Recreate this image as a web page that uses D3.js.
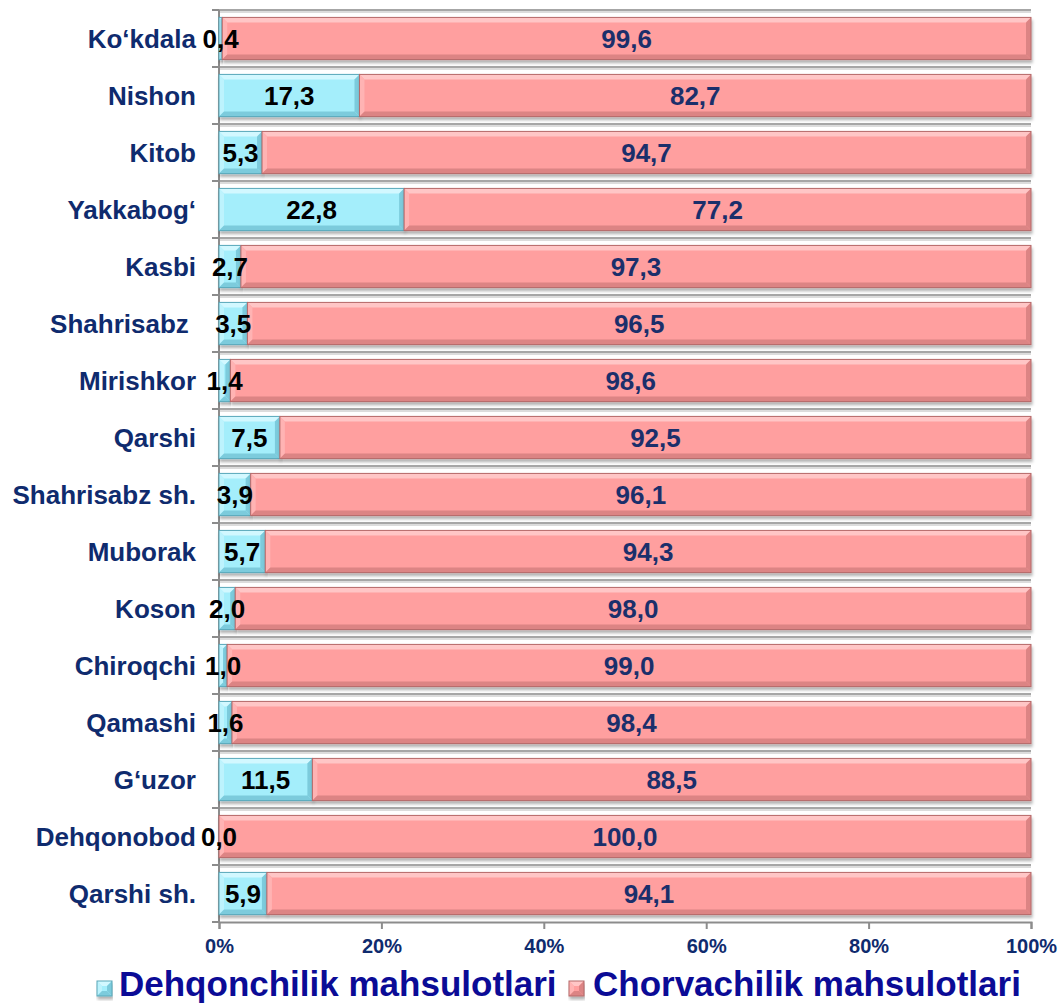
<!DOCTYPE html>
<html>
<head>
<meta charset="utf-8">
<script src="https://cdn.jsdelivr.net/npm/d3@7"></script>
<style>
  body { margin: 0; background: #fff; }
  svg { font-family: Arial, "Liberation Sans", sans-serif; font-weight: bold; }
</style>
</head>
<body>
<div id="chart"></div>
<script>
// data, top to bottom
const categories = ["Ko‘kdala", "Nishon", "Kitob", "Yakkabog‘", "Kasbi", "Shahrisabz ", "Mirishkor", "Qarshi",
  "Shahrisabz sh.", "Muborak", "Koson", "Chiroqchi", "Qamashi", "G‘uzor", "Dehqonobod", "Qarshi sh."];
const dehqon = [0.4, 17.3, 5.3, 22.8, 2.7, 3.5, 1.4, 7.5, 3.9, 5.7, 2.0, 1.0, 1.6, 11.5, 0.0, 5.9];
const chorva = [99.6, 82.7, 94.7, 77.2, 97.3, 96.5, 98.6, 92.5, 96.1, 94.3, 98.0, 99.0, 98.4, 88.5, 100.0, 94.1];
const seriesNames = ["Dehqonchilik mahsulotlari", "Chorvachilik mahsulotlari"];
const xTicks = [0, 20, 40, 60, 80, 100];

const width = 1060, height = 1005;
const margin = { left: 219, right: 1031, top: 10, bottom: 922 };

const styles = [
  { base: "#a4eefb", light: "#d2f8ff", side: "#bdf3fd", dark: "#7ccbdc", edge: "#5aa8ba", label: "#000" },
  { base: "#ff9f9f", light: "#ffc6c6", side: "#ffb3b3", dark: "#dc8484", edge: "#b56a6a", label: "#1b2f6b" }
];

const svg = d3.select("#chart").append("svg")
  .attr("width", width)
  .attr("height", height);

const defs = svg.append("defs");
const shadow = defs.append("filter").attr("id", "shadow")
  .attr("x", "-5%").attr("y", "-20%").attr("width", "110%").attr("height", "150%");
shadow.append("feDropShadow")
  .attr("dx", 1).attr("dy", 3).attr("stdDeviation", 1.5)
  .attr("flood-color", "#000").attr("flood-opacity", 0.3);

const x = d3.scaleLinear().domain([0, 100]).range([margin.left, margin.right]);
const y = d3.scaleBand().domain(categories).range([margin.top, margin.bottom])
  .paddingInner(0.26).paddingOuter(0.13);
const step = y.step();

const fmt = v => d3.format(".1f")(v).replace(".", ",");

// horizontal gridlines between categories
const bounds = d3.range(categories.length).map(i => margin.top + i * step);
svg.append("g").selectAll("line")
  .data(bounds).join("line")
  .attr("x1", margin.left).attr("x2", margin.right)
  .attr("y1", d => d + 2).attr("y2", d => d + 2)
  .attr("stroke", "#dcdcdc").attr("stroke-width", 2);
svg.append("g").selectAll("line")
  .data(bounds).join("line")
  .attr("x1", margin.left).attr("x2", margin.right)
  .attr("y1", d => d).attr("y2", d => d)
  .attr("stroke", "#a6a6a6").attr("stroke-width", 2);

// left axis with ticks at band boundaries
const axisColor = "#8c8c8c";
svg.append("line")
  .attr("x1", margin.left).attr("x2", margin.left)
  .attr("y1", margin.top).attr("y2", margin.bottom)
  .attr("stroke", axisColor).attr("stroke-width", 2);
svg.append("g").selectAll("line")
  .data(bounds.concat([margin.bottom])).join("line")
  .attr("x1", margin.left - 7).attr("x2", margin.left)
  .attr("y1", d => d).attr("y2", d => d)
  .attr("stroke", axisColor).attr("stroke-width", 2);

// bottom axis
const xAxis = svg.append("g")
  .attr("transform", "translate(0," + margin.bottom + ")")
  .call(d3.axisBottom(x).tickValues(xTicks).tickSize(7).tickPadding(10)
    .tickFormat(d => d + "%"));
xAxis.select(".domain").attr("stroke", axisColor).attr("stroke-width", 2);
xAxis.selectAll(".tick line").attr("stroke", axisColor).attr("stroke-width", 2);
xAxis.selectAll(".tick text")
  .attr("fill", "#0f2b6e")
  .style("font-size", "20px")
  .style("font-weight", "bold")
  .style("font-family", "Arial, 'Liberation Sans', sans-serif");

// category labels
svg.append("g").selectAll("text")
  .data(categories).join("text")
  .attr("x", 196)
  .attr("y", d => y(d) + y.bandwidth() / 2 + 9)
  .attr("text-anchor", "end")
  .attr("fill", "#0f2b6e")
  .style("font-size", "26px")
  .style("white-space", "pre")
  .text(d => d);

// beveled bar segment
function bevelBar(g, x0, y0, w, h, st) {
  const b = Math.min(5, w / 2);
  const grp = g.append("g").attr("filter", "url(#shadow)");
  grp.append("rect").attr("x", x0).attr("y", y0).attr("width", w).attr("height", h)
    .attr("fill", st.base);
  const poly = pts => pts.map(p => p.join(",")).join(" ");
  grp.append("polygon").attr("fill", st.light)
    .attr("points", poly([[x0, y0], [x0 + w, y0], [x0 + w - b, y0 + b], [x0 + b, y0 + b]]));
  grp.append("polygon").attr("fill", st.side)
    .attr("points", poly([[x0, y0], [x0 + b, y0 + b], [x0 + b, y0 + h - b], [x0, y0 + h]]));
  grp.append("polygon").attr("fill", st.dark)
    .attr("points", poly([[x0, y0 + h], [x0 + w, y0 + h], [x0 + w - b, y0 + h - b], [x0 + b, y0 + h - b]]));
  grp.append("polygon").attr("fill", st.dark)
    .attr("points", poly([[x0 + w, y0], [x0 + w - b, y0 + b], [x0 + w - b, y0 + h - b], [x0 + w, y0 + h]]));
  grp.append("rect").attr("x", x0).attr("y", y0).attr("width", w).attr("height", h)
    .attr("fill", "none").attr("stroke", st.edge).attr("stroke-width", 1);
}

const bars = svg.append("g");
const labels = svg.append("g");
categories.forEach((c, i) => {
  const vals = [dehqon[i], chorva[i]];
  let acc = 0;
  vals.forEach((v, s) => {
    const x0 = x(acc), x1 = x(acc + v);
    if (v > 0) bevelBar(bars, x0, y(c), x1 - x0, y.bandwidth(), styles[s]);
    labels.append("text")
      .attr("x", (x0 + x1) / 2)
      .attr("y", y(c) + y.bandwidth() / 2 + 9)
      .attr("text-anchor", "middle")
      .attr("fill", styles[s].label)
      .style("font-size", "26px")
      .text(fmt(v));
    acc += v;
  });
});

// legend
const legendPos = [{ mx: 97, tx: 119 }, { mx: 569, tx: 593 }];
const legend = svg.append("g");
seriesNames.forEach((name, s) => {
  bevelBar(legend, legendPos[s].mx, 981, 15, 15, styles[s]);
  legend.append("text")
    .attr("x", legendPos[s].tx)
    .attr("y", 996)
    .attr("fill", "#0b0b96")
    .style("font-size", "35px")
    .text(name);
});
</script>
</body>
</html>
